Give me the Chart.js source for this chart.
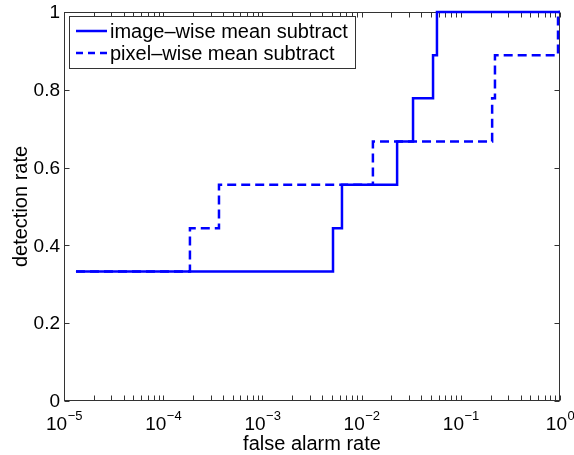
<!DOCTYPE html>
<html><head><meta charset="utf-8">
<script src="https://cdn.jsdelivr.net/npm/chart.js@4"></script>
<style>html,body{margin:0;padding:0;background:#fff}canvas{display:block}</style>
</head><body>
<canvas id="c" width="574" height="455"></canvas>
<script>
// ---- data ----
const seriesLabels = ['image\u2013wise mean subtract', 'pixel\u2013wise mean subtract'];
const fprImage = [1.32e-5, 5.15e-3, 6.34e-3, 0.0228, 0.033, 0.0525, 0.0575, 1];
const tprImage = [0.333, 0.444, 0.556, 0.667, 0.778, 0.889, 1, 1];
const fprPixel = [1.32e-5, 1.86e-4, 3.65e-4, 0.013, 0.207, 0.221, 0.955, 1];
const tprPixel = [0.333, 0.444, 0.556, 0.667, 0.778, 0.889, 1, 1];
const xTickValues = [1e-5, 1e-4, 1e-3, 1e-2, 1e-1, 1];
const xTickBase = '10';
const xTickExponents = ['\u22125', '\u22124', '\u22123', '\u22122', '\u22121', '0'];
const yTickValues = [0, 0.2, 0.4, 0.6, 0.8, 1];
const yTickLabels = ['0', '0.2', '0.4', '0.6', '0.8', '1'];
const xTitle = 'false alarm rate';
const yTitle = 'detection rate';

const FONT = '"Liberation Sans", Arial, Helvetica, sans-serif';
const AXIS_COLOR = '#333333';
const LINE_COLOR = '#0000ff';
const DASH = [9, 5];

const toPts = (xs, ys) => xs.map((x, i) => ({x: x, y: ys[i]}));

const framePlugin = {
  id: 'frame',
  beforeDatasetsDraw(chart) {
    const ctx = chart.ctx, a = chart.chartArea;
    const xs = chart.scales.x, ys = chart.scales.y;
    const L = Math.round(a.left) + 0.5, R = Math.round(a.right) - 0.5;
    const T = Math.round(a.top) + 0.5, B = Math.round(a.bottom) - 0.5;
    ctx.save();
    ctx.strokeStyle = AXIS_COLOR;
    ctx.lineWidth = 1;
    ctx.setLineDash([]);
    ctx.strokeRect(L, T, R - L, B - T);
    const tl = 5;
    ctx.beginPath();
    // x ticks (major + minor), inward on bottom and top
    const xt = [];
    for (let d = -5; d <= 0; d++) {
      for (let k = 1; k <= 9; k++) {
        const v = k * Math.pow(10, d);
        if (v > 1.0000001) break;
        xt.push(v);
      }
    }
    xt.forEach(v => {
      const px = Math.round(xs.getPixelForValue(v)) + 0.5;
      ctx.moveTo(px, B); ctx.lineTo(px, B - tl);
      ctx.moveTo(px, T); ctx.lineTo(px, T + tl);
    });
    yTickValues.forEach(v => {
      const py = Math.round(ys.getPixelForValue(v)) + 0.5;
      ctx.moveTo(L, py); ctx.lineTo(L + tl, py);
      ctx.moveTo(R, py); ctx.lineTo(R - tl, py);
    });
    ctx.stroke();
    ctx.restore();
  },
  afterDraw(chart) {
    const ctx = chart.ctx, a = chart.chartArea;
    const xs = chart.scales.x, ys = chart.scales.y;
    ctx.save();
    ctx.fillStyle = '#000';
    // y tick labels
    ctx.font = '19px ' + FONT;
    ctx.textAlign = 'right';
    ctx.textBaseline = 'middle';
    yTickValues.forEach((v, i) => {
      ctx.fillText(yTickLabels[i], a.left - 4, ys.getPixelForValue(v) + 1);
    });
    // x tick labels: 10 with superscript exponent
    ctx.textAlign = 'left';
    ctx.textBaseline = 'alphabetic';
    xTickValues.forEach((v, i) => {
      ctx.font = '19px ' + FONT;
      const wb = ctx.measureText(xTickBase).width;
      ctx.font = '13px ' + FONT;
      const we = ctx.measureText(xTickExponents[i]).width;
      const cx = xs.getPixelForValue(v);
      const x0 = cx - (wb + we) / 2;
      ctx.font = '19px ' + FONT;
      ctx.fillText(xTickBase, x0, 430);
      ctx.font = '13px ' + FONT;
      ctx.fillText(xTickExponents[i], x0 + wb + 0.5, 420);
    });
    // axis titles
    ctx.font = '20px ' + FONT;
    ctx.textAlign = 'center';
    ctx.fillText(xTitle, (a.left + a.right) / 2, 450);
    ctx.save();
    ctx.translate(27, (a.top + a.bottom) / 2);
    ctx.rotate(-Math.PI / 2);
    ctx.fillText(yTitle, 0, 0);
    ctx.restore();
    // legend box
    const bx = 69.5, by = 16.5, bw = 286, bh = 52;
    ctx.fillStyle = '#fff';
    ctx.fillRect(bx, by, bw, bh);
    ctx.strokeStyle = AXIS_COLOR;
    ctx.lineWidth = 1;
    ctx.strokeRect(bx, by, bw, bh);
    const rows = [31, 53];
    chart.data.datasets.forEach((ds, i) => {
      const y = rows[i];
      ctx.strokeStyle = ds.borderColor;
      ctx.lineWidth = ds.borderWidth;
      ctx.setLineDash(ds.borderDash && ds.borderDash.length ? [7, 5] : []);
      ctx.beginPath();
      ctx.moveTo(76, y); ctx.lineTo(107, y);
      ctx.stroke();
      ctx.setLineDash([]);
      ctx.fillStyle = '#000';
      ctx.font = '20px ' + FONT;
      ctx.textAlign = 'left';
      ctx.textBaseline = 'middle';
      ctx.fillText(ds.label, 110, y + 1);
    });
    ctx.restore();
  }
};

new Chart(document.getElementById('c'), {
  type: 'line',
  data: {
    datasets: [
      {label: seriesLabels[0], data: toPts(fprImage, tprImage), borderColor: LINE_COLOR, borderWidth: 2.5,
       borderDash: [], stepped: 'before', pointRadius: 0, fill: false, clip: 4},
      {label: seriesLabels[1], data: toPts(fprPixel, tprPixel), borderColor: LINE_COLOR, borderWidth: 2.5,
       borderDash: DASH, stepped: 'before', pointRadius: 0, fill: false, clip: 4}
    ]
  },
  options: {
    responsive: false,
    animation: false,
    devicePixelRatio: 1,
    layout: {padding: {left: 64, right: 14, top: 12, bottom: 54}},
    plugins: {legend: {display: false}, tooltip: {enabled: false}},
    scales: {
      x: {type: 'logarithmic', min: 1e-5, max: 1, display: false},
      y: {type: 'linear', min: 0, max: 1, display: false}
    }
  },
  plugins: [framePlugin]
});
</script>
</body></html>
